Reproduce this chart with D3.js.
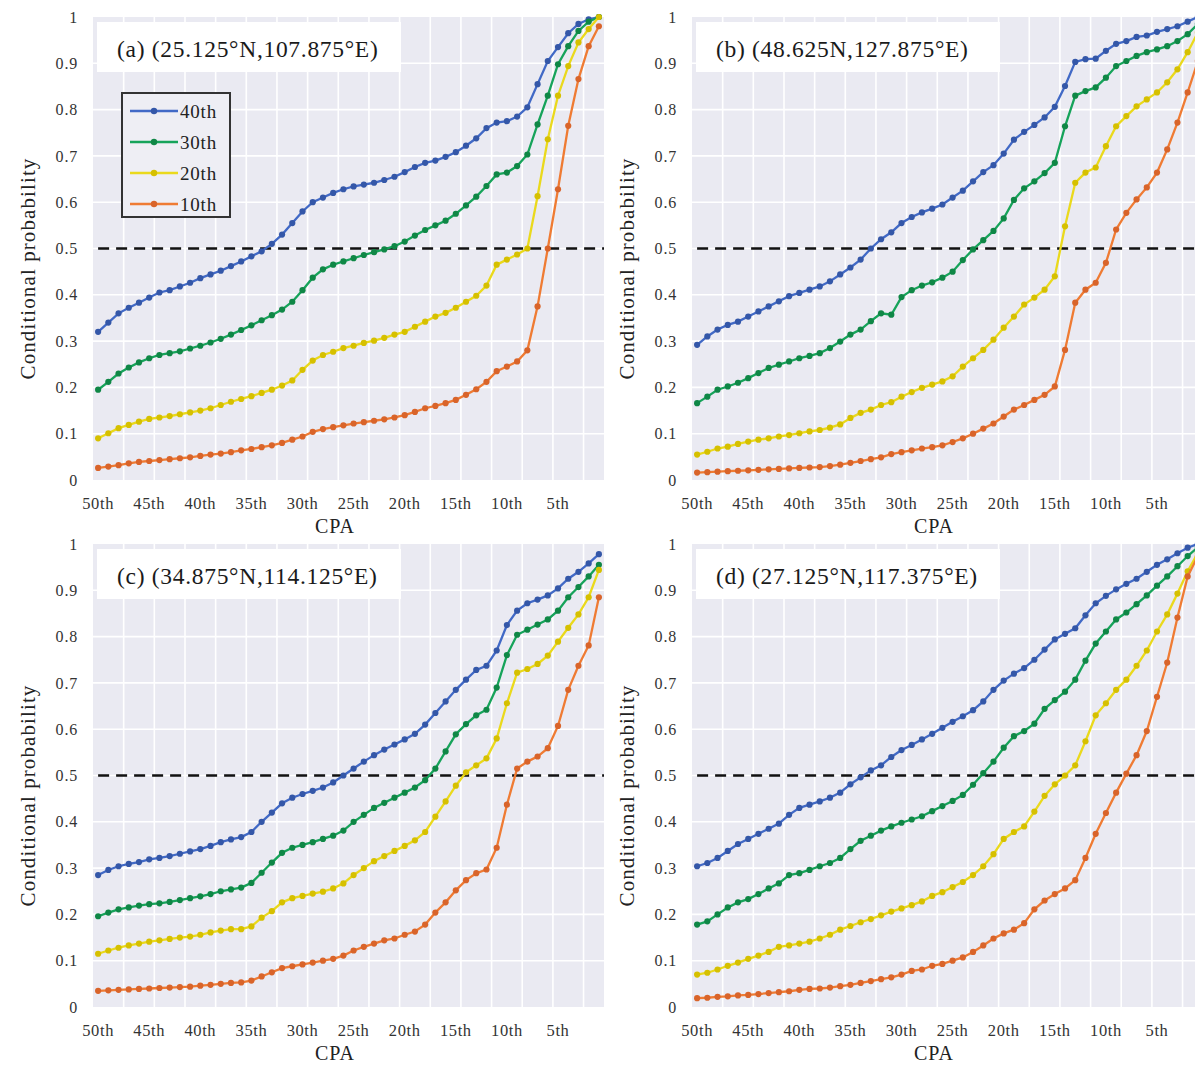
<!DOCTYPE html>
<html>
<head>
<meta charset="utf-8">
<script src="https://cdn.jsdelivr.net/npm/d3@7"></script>
<style>
  html, body { margin: 0; padding: 0; background: #ffffff; }
  svg { display: block; }
  text { font-family: "Liberation Serif", "Times New Roman", "DejaVu Serif", serif; }
</style>
</head>
<body>
<svg id="chart" width="1195" height="1065"></svg>
<script>
// ---------------- DATA ----------------
const ranks = d3.range(50, 0, -1);              // CPA categories 50th ... 1st
const tickRanks = [50, 45, 40, 35, 30, 25, 20, 15, 10, 5];
const yTicks = [0, 0.1, 0.2, 0.3, 0.4, 0.5, 0.6, 0.7, 0.8, 0.9, 1];
const seriesNames = ["40th", "30th", "20th", "10th"];
const panelTitles = ["(a) (25.125°N,107.875°E)", "(b) (48.625N,127.875°E)",
                     "(c) (34.875°N,114.125°E)", "(d) (27.125°N,117.375°E)"];

const a40 = [.32,.34,.36,.372,.383,.394,.405,.41,.418,.426,.436,.444,.452,.462,.472,.483,.494,.51,.53,.555,.58,.60,.61,.62,.628,.634,.638,.642,.648,.655,.665,.676,.685,.69,.698,.708,.722,.738,.76,.772,.775,.785,.805,.855,.905,.935,.965,.985,.995,1.0];
const a30 = [.195,.212,.23,.243,.254,.263,.27,.274,.278,.284,.29,.297,.305,.314,.324,.334,.345,.356,.368,.385,.41,.437,.455,.465,.472,.479,.486,.492,.498,.505,.515,.528,.54,.55,.56,.575,.593,.612,.635,.66,.664,.678,.703,.768,.83,.898,.937,.97,.99,1.0];
const a20 = [.09,.101,.112,.119,.126,.132,.135,.138,.142,.146,.15,.155,.162,.169,.175,.181,.188,.195,.204,.215,.238,.258,.27,.277,.285,.29,.296,.301,.307,.314,.32,.331,.342,.353,.361,.372,.385,.398,.42,.465,.476,.487,.5,.613,.736,.83,.894,.945,.974,1.0];
const a10 = [.026,.029,.032,.036,.039,.041,.043,.045,.047,.049,.052,.055,.057,.06,.064,.067,.071,.075,.08,.087,.094,.104,.11,.114,.118,.122,.125,.128,.131,.135,.14,.147,.155,.16,.166,.173,.184,.196,.212,.235,.245,.256,.28,.375,.5,.628,.765,.866,.937,.98];

const b40 = [.292,.31,.325,.335,.342,.353,.364,.375,.386,.397,.404,.411,.418,.429,.444,.459,.476,.5,.52,.535,.555,.568,.578,.586,.595,.61,.625,.645,.665,.68,.705,.735,.752,.767,.783,.806,.851,.903,.909,.91,.927,.942,.948,.957,.96,.968,.974,.98,.99,1.0];
const b30 = [.166,.18,.195,.202,.21,.22,.231,.242,.249,.256,.263,.268,.274,.285,.299,.314,.325,.343,.36,.357,.395,.41,.42,.427,.437,.45,.475,.498,.518,.538,.565,.605,.63,.645,.663,.685,.764,.83,.84,.848,.869,.894,.905,.916,.924,.93,.937,.948,.963,.985];
const b20 = [.055,.061,.068,.072,.078,.083,.087,.09,.094,.097,.101,.105,.108,.113,.12,.134,.145,.152,.162,.168,.18,.19,.199,.206,.213,.224,.245,.263,.281,.303,.329,.353,.379,.394,.411,.44,.548,.642,.664,.675,.721,.764,.786,.807,.822,.837,.859,.887,.924,.967];
const b10 = [.016,.017,.018,.019,.02,.021,.022,.023,.024,.025,.026,.027,.028,.03,.033,.037,.041,.045,.049,.056,.06,.064,.068,.071,.075,.082,.09,.1,.111,.122,.137,.152,.162,.173,.184,.202,.281,.383,.411,.426,.469,.541,.577,.606,.632,.664,.714,.772,.837,.905];

const c40 = [.285,.296,.304,.309,.313,.319,.322,.326,.331,.336,.341,.348,.356,.362,.367,.378,.4,.42,.44,.452,.46,.467,.474,.485,.5,.515,.53,.544,.556,.567,.578,.59,.61,.635,.66,.685,.707,.728,.737,.77,.825,.856,.872,.88,.889,.904,.925,.94,.958,.978];
const c30 = [.196,.204,.211,.215,.219,.222,.224,.227,.231,.235,.239,.244,.25,.254,.258,.268,.29,.312,.333,.344,.35,.356,.363,.37,.381,.4,.415,.43,.441,.452,.463,.474,.49,.515,.552,.589,.611,.63,.642,.69,.76,.804,.815,.826,.837,.856,.885,.907,.93,.955];
const c20 = [.115,.122,.128,.133,.137,.141,.144,.147,.15,.152,.156,.161,.165,.168,.168,.174,.193,.207,.226,.235,.24,.245,.249,.256,.267,.285,.3,.315,.326,.337,.348,.36,.378,.411,.444,.478,.507,.522,.537,.58,.656,.722,.73,.741,.759,.789,.819,.848,.885,.944];
const c10 = [.035,.036,.037,.038,.039,.04,.041,.042,.043,.044,.046,.048,.05,.052,.053,.057,.066,.075,.084,.088,.092,.096,.1,.104,.111,.122,.13,.137,.144,.148,.156,.163,.178,.204,.226,.252,.274,.289,.297,.344,.437,.515,.53,.541,.559,.607,.685,.737,.781,.885];

const d40 = [.304,.311,.322,.337,.352,.363,.374,.385,.396,.415,.43,.437,.444,.452,.463,.481,.496,.511,.522,.54,.555,.566,.578,.59,.603,.616,.628,.641,.66,.685,.705,.72,.732,.75,.772,.794,.806,.818,.846,.872,.888,.902,.914,.925,.94,.955,.967,.98,.992,1.0];
const d30 = [.178,.185,.2,.215,.226,.233,.244,.256,.267,.285,.289,.296,.304,.311,.322,.341,.359,.37,.381,.39,.398,.405,.412,.423,.434,.445,.458,.48,.505,.53,.56,.585,.596,.612,.644,.663,.681,.707,.748,.785,.811,.837,.852,.87,.889,.91,.93,.952,.974,.993];
const d20 = [.07,.074,.081,.089,.096,.104,.111,.119,.13,.133,.137,.141,.148,.156,.167,.175,.183,.19,.198,.206,.213,.22,.228,.24,.248,.259,.27,.285,.304,.33,.363,.378,.39,.422,.456,.481,.5,.522,.574,.63,.656,.685,.707,.737,.77,.811,.848,.893,.941,.981];
const d10 = [.019,.02,.022,.023,.025,.026,.028,.03,.032,.034,.037,.039,.04,.042,.045,.048,.052,.056,.06,.064,.07,.078,.081,.089,.093,.1,.107,.119,.133,.148,.159,.167,.181,.211,.23,.244,.256,.274,.322,.374,.419,.463,.504,.544,.596,.67,.744,.841,.93,.974];

// ---------------- STYLE ----------------
const lineColors   = ["#4169c6", "#16a35a", "#ead91c", "#ef7b33"];
const markerColors = ["#3457a8", "#0f8746", "#d6c000", "#d9642a"];
const bgColor = "#eaeaf2";

const panels = [
  { title: panelTitles[0], data: [a40, a30, a20, a10], left: 93,  top: 17,  legend: true },
  { title: panelTitles[1], data: [b40, b30, b20, b10], left: 692, top: 17,  legend: false },
  { title: panelTitles[2], data: [c40, c30, c20, c10], left: 93,  top: 544, legend: false },
  { title: panelTitles[3], data: [d40, d30, d20, d10], left: 692, top: 544, legend: false }
];
const W = 511, H = 463;

const svg = d3.select("#chart");

panels.forEach(p => {
  const g = svg.append("g").attr("transform", `translate(${p.left},${p.top})`);
  const x = d3.scalePoint().domain(ranks).range([0, W]).padding(0.5);
  const y = d3.scaleLinear().domain([0, 1]).range([H, 0]);
  const step = x.step();

  // background
  g.append("rect").attr("x", 0).attr("y", 0).attr("width", W).attr("height", H).attr("fill", bgColor);

  // horizontal grid
  g.selectAll(".hg").data(yTicks.filter(v => v > 0 && v < 1)).enter().append("line")
    .attr("x1", 0).attr("x2", W).attr("y1", d => y(d)).attr("y2", d => y(d))
    .attr("stroke", "#ffffff").attr("stroke-width", 1.6);
  // vertical grid (every 3 categories, between categories)
  const vIdx = d3.range(2, 49, 3);
  g.selectAll(".vg").data(vIdx).enter().append("line")
    .attr("x1", i => x(ranks[i]) + step / 2).attr("x2", i => x(ranks[i]) + step / 2)
    .attr("y1", 0).attr("y2", H)
    .attr("stroke", "#ffffff").attr("stroke-width", 1.6);

  // title box
  g.append("rect").attr("x", 4).attr("y", 5).attr("width", 304).attr("height", 50).attr("fill", "#ffffff");
  g.append("text").attr("x", 24).attr("y", 40).attr("font-size", 23.5)
    .attr("letter-spacing", 0.7).attr("fill", "#1a1a1a")
    .text(p.title);

  // y tick labels
  g.selectAll(".yt").data(yTicks).enter().append("text")
    .attr("x", -15).attr("y", d => y(d)).attr("dy", "0.35em")
    .attr("text-anchor", "end").attr("font-size", 16).attr("letter-spacing", 0.8)
    .attr("fill", "#333")
    .text(d => d3.format("~g")(d));

  // x tick labels
  g.selectAll(".xt").data(tickRanks).enter().append("text")
    .attr("x", r => x(r)).attr("y", H + 29)
    .attr("text-anchor", "middle").attr("font-size", 16.5).attr("letter-spacing", 0.6)
    .attr("fill", "#333")
    .text(r => r + "th");

  // axis titles
  g.append("text").attr("x", 242).attr("y", H + 53).attr("text-anchor", "middle")
    .attr("font-size", 20).attr("letter-spacing", 1).attr("fill", "#222").text("CPA");
  g.append("text").attr("transform", `translate(-58,${H / 2 + 20}) rotate(-90)`)
    .attr("text-anchor", "middle").attr("font-size", 21).attr("letter-spacing", 1.1)
    .attr("fill", "#222")
    .text("Conditional probability");

  // dashed 0.5 line
  g.append("line").attr("x1", x(ranks[0])).attr("x2", W).attr("y1", y(0.5)).attr("y2", y(0.5))
    .attr("stroke", "#111").attr("stroke-width", 2.6).attr("stroke-dasharray", "11,7");

  // series
  const line = d3.line().x((d, i) => x(ranks[i])).y(d => y(d));
  p.data.forEach((vals, si) => {
    g.append("path").datum(vals).attr("d", line)
      .attr("fill", "none").attr("stroke", lineColors[si]).attr("stroke-width", 2.3);
    g.selectAll(null).data(vals).enter().append("circle")
      .attr("cx", (d, i) => x(ranks[i])).attr("cy", d => y(d)).attr("r", 3.1)
      .attr("fill", markerColors[si]);
  });

  // legend
  if (p.legend) {
    const lg = g.append("g").attr("transform", "translate(29,76)");
    lg.append("rect").attr("x", 0).attr("y", 0).attr("width", 108).attr("height", 124)
      .attr("fill", "#eeeef4").attr("stroke", "#333").attr("stroke-width", 2);
    seriesNames.forEach((nm, si) => {
      const yy = 18 + si * 31;
      lg.append("line").attr("x1", 8).attr("x2", 56).attr("y1", yy).attr("y2", yy)
        .attr("stroke", lineColors[si]).attr("stroke-width", 2.3);
      lg.append("circle").attr("cx", 32).attr("cy", yy).attr("r", 3.2).attr("fill", markerColors[si]);
      lg.append("text").attr("x", 58).attr("y", yy).attr("dy", "0.35em")
        .attr("font-size", 19).attr("letter-spacing", 0.8).attr("fill", "#222").text(nm);
    });
  }
});
</script>
</body>
</html>
